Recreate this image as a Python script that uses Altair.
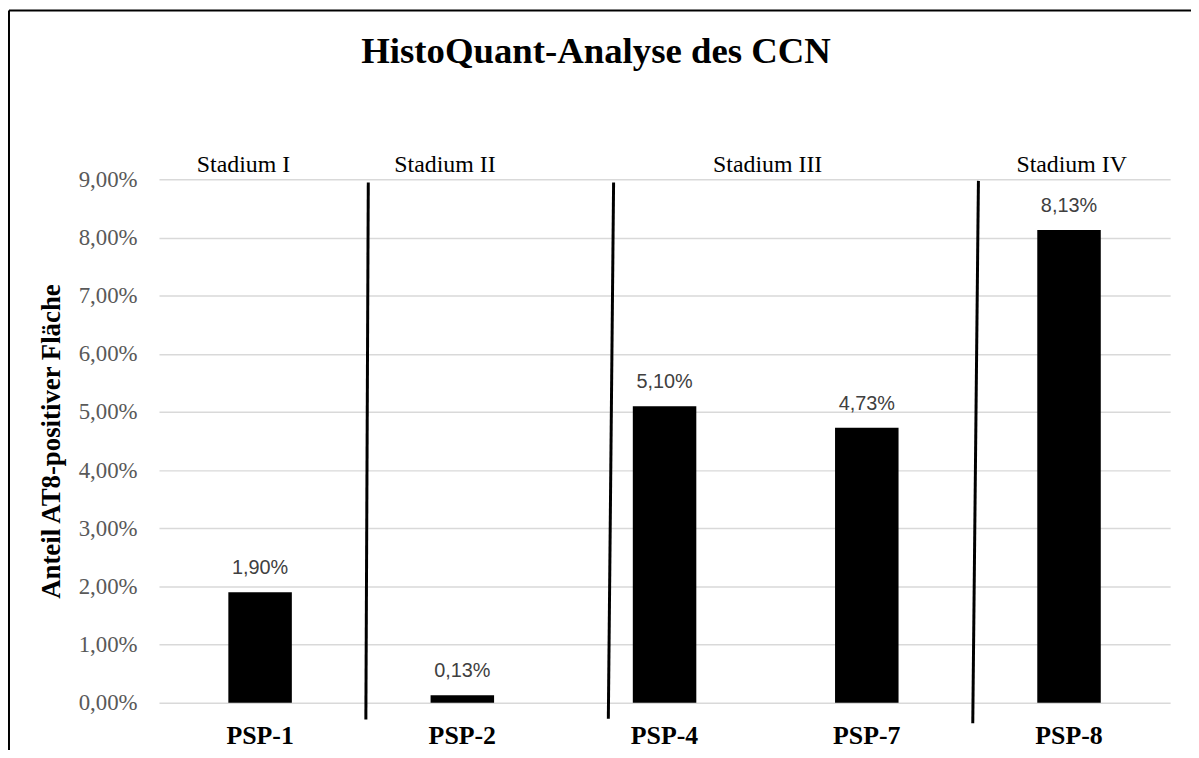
import altair as alt
import pandas as pd

# ---- data ----
categories = ["PSP-1", "PSP-2", "PSP-4", "PSP-7", "PSP-8"]
values = [0.0190, 0.0013, 0.0510, 0.0473, 0.0813]
value_labels = ["1,90%", "0,13%", "5,10%", "4,73%", "8,13%"]

stage_names = ["Stadium I", "Stadium II", "Stadium III", "Stadium IV"]
stage_pos = [0.418, 1.414, 3.01, 4.513]          # in category units
stage_level = [0.0913, 0.0913, 0.0913, 0.0913]

sep_pos_top = [1.035, 2.248, 4.052]
sep_pos_bottom = [1.023, 2.222, 4.024]
sep_level_top = [0.08945, 0.08945, 0.08974]
sep_level_bottom = [-0.00285, -0.00273, -0.00353]

y_ticks = [0.00, 0.01, 0.02, 0.03, 0.04, 0.05, 0.06, 0.07, 0.08, 0.09]

W, H = 1018, 527

bars_df = pd.DataFrame({"cat": categories, "value": values, "label": value_labels})
stage_df = pd.DataFrame({"name": stage_names, "pos": stage_pos, "level": stage_level})
sep_df = pd.DataFrame({"xt": sep_pos_top, "xb": sep_pos_bottom,
                       "yt": sep_level_top, "yb": sep_level_bottom})

xband = alt.Scale(domain=categories, paddingInner=0.686, paddingOuter=0.343)
xq = alt.Scale(domain=[0, 5], nice=False, zero=False)
yscale = alt.Scale(domain=[0, 0.09], nice=False)

yaxis = alt.Axis(
    values=y_ticks,
    labelExpr="replace(format(datum.value, '.2%'), '.', ',')",
    labelFont="Liberation Serif", labelFontSize=23, labelColor="#595959",
    labelPadding=22, ticks=False, domain=False,
    grid=True, gridColor="#d9d9d9", gridWidth=1.5,
    title="Anteil AT8-positiver Fläche",
    titleFont="Liberation Serif", titleFontSize=27, titleFontWeight="bold",
    titleColor="black", titlePadding=13,
)
xaxis = alt.Axis(
    labelFont="Liberation Serif", labelFontSize=26, labelFontWeight="bold",
    labelColor="black", labelPadding=20, labelAngle=0,
    ticks=False, domain=False, grid=False, title=None,
)

bars = alt.Chart(bars_df).mark_bar(color="black").encode(
    x=alt.X("cat:N", scale=xband, axis=xaxis, sort=categories),
    y=alt.Y("value:Q", scale=yscale, axis=yaxis),
)
vtext = alt.Chart(bars_df).mark_text(
    font="Liberation Sans", fontSize=20, color="#404040", dy=-18, baseline="alphabetic"
).encode(
    x=alt.X("cat:N", scale=xband, axis=xaxis, sort=categories),
    y=alt.Y("value:Q", scale=yscale, axis=yaxis),
    text="label:N",
)

seps = alt.Chart(sep_df).mark_rule(color="black", strokeWidth=3).encode(
    x=alt.X("xt:Q", scale=xq, axis=None),
    x2="xb:Q",
    y=alt.Y("yt:Q", scale=yscale, axis=yaxis),
    y2="yb:Q",
)
stages = alt.Chart(stage_df).mark_text(
    font="Liberation Serif", fontSize=24, color="black", baseline="alphabetic"
).encode(
    x=alt.X("pos:Q", scale=xq, axis=None),
    y=alt.Y("level:Q", scale=yscale, axis=yaxis),
    text="name:N",
)

frame_df = pd.DataFrame({"k": [0]})
frame_left = alt.Chart(frame_df).mark_rule(color="black", strokeWidth=2).encode(
    x=alt.value(-151), y=alt.value(-170), y2=alt.value(H + 200)
)
frame_top = alt.Chart(frame_df).mark_rule(color="black", strokeWidth=2).encode(
    x=alt.value(-151), x2=alt.value(W + 200), y=alt.value(-170)
)

chart = alt.layer(
    alt.layer(bars, vtext),
    alt.layer(seps, stages),
    frame_left, frame_top,
).resolve_scale(x="independent").properties(
    width=W, height=H,
    autosize=alt.AutoSizeParams(type="none"),
    padding={"left": 152, "top": 170, "right": 21, "bottom": 45},
    title=alt.TitleParams(
        "HistoQuant-Analyse des CCN", font="Liberation Serif", fontSize=37,
        fontWeight="bold", color="black", anchor="middle", dx=-69, offset=-62,
    ),
).configure_view(stroke=None)

chart.save("out.html", embed_options={"renderer": "svg", "actions": False})
